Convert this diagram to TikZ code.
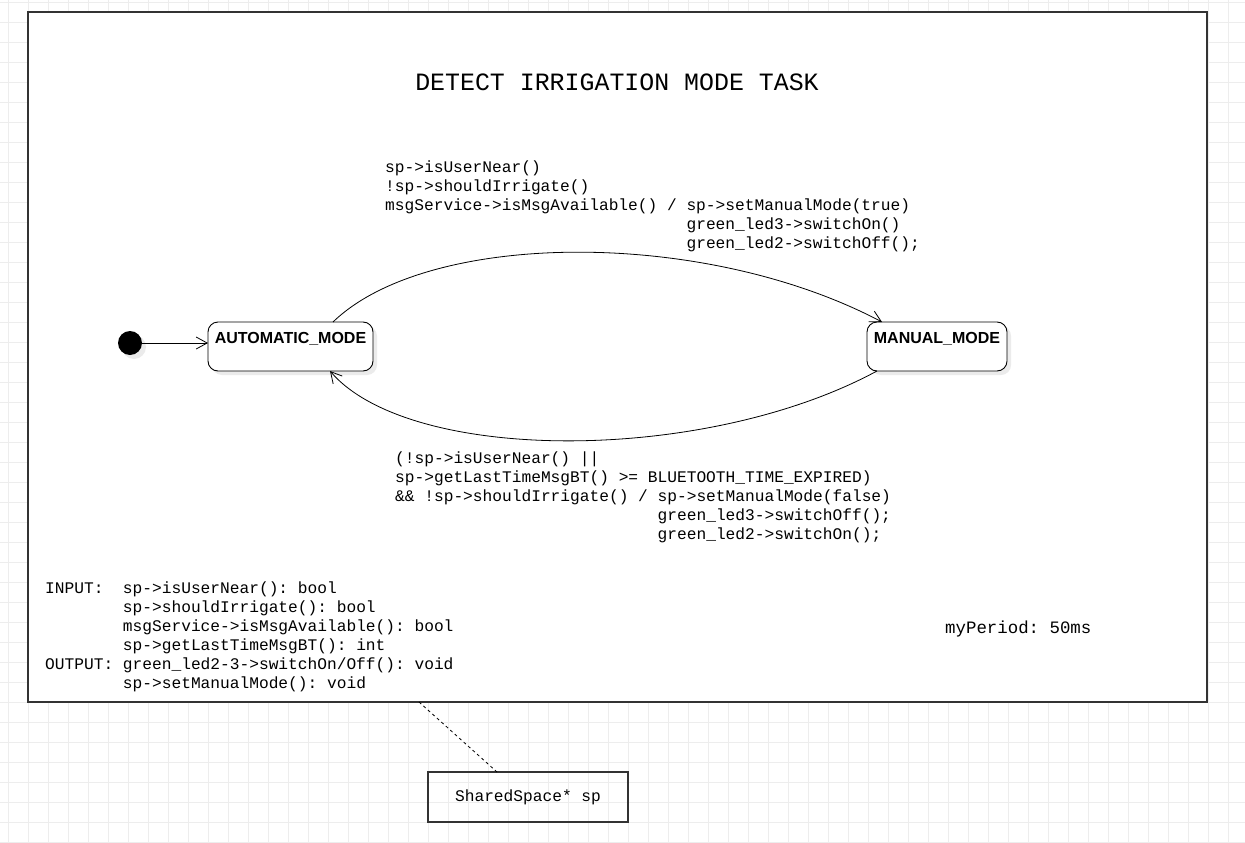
\documentclass[tikz,border=0pt]{standalone}
\usepackage{fontspec}
\setmainfont{Liberation Sans}
\setsansfont{Liberation Sans}
\setmonofont{Liberation Mono}
\usetikzlibrary{arrows.meta,positioning,shadows}

\definecolor{gridgray}{HTML}{EDEDED}
\definecolor{framegray}{HTML}{333333}
\definecolor{shadowgray}{HTML}{EBEBEB}

\tikzset{
	gridline/.style={draw=gridgray, line width=0.7pt},
	taskframe/.style={draw=framegray, fill=white, line width=1.4pt, inner sep=0pt, outer sep=0pt},
	state/.style={draw, fill=white, rounded corners=10pt, line width=0.9pt, inner xsep=0pt, inner ysep=10pt, outer sep=0pt, text height=11.5pt, text depth=17.5pt, font=\sffamily\bfseries\fontsize{16}{19}\selectfont, drop shadow={shadow xshift=4pt, shadow yshift=-4pt, fill=shadowgray, opacity=1}},
	initstate/.style={circle, fill=black, minimum size=24pt, inner sep=0pt, outer sep=0pt, drop shadow={shadow xshift=4pt, shadow yshift=-4pt, fill=shadowgray, opacity=1}},
	trans/.style={draw, line width=0.8pt, -{Straight Barb[length=11pt,width=12pt]}},
	code/.style={font=\ttfamily\fontsize{16.2}{19}\selectfont\frenchspacing, align=left, inner sep=0pt, anchor=north west},
	classbox/.style={draw=framegray, line width=1.3pt, minimum width=200pt, minimum height=50pt, inner sep=0pt, outer sep=0pt, font=\ttfamily\fontsize{16.2}{19}\selectfont},
	link/.style={draw, line width=0.8pt, dash pattern=on 3pt off 3pt}
}

\begin{document}
\begin{tikzpicture}[x=1pt,y=-1pt]
	\useasboundingbox (0,0) rectangle (1245,843);
	
	% background grid
	\foreach \gx in {8,28,...,1245} \draw[gridline] (\gx,0) -- (\gx,843);
	\foreach \gy in {2,22,...,843} \draw[gridline] (0,\gy) -- (1245,\gy);
	
	\node[taskframe, minimum width=1179pt, minimum height=690pt] (task) at (617.5,357) {};
	\node[font=\ttfamily\fontsize{24.9}{30}\selectfont] (title) at (617,82) {DETECT IRRIGATION MODE TASK};
	
	\node[state, minimum width=165pt] (auto) at (290.5,346.5) {AUTOMATIC\_MODE};
	\node[state, minimum width=140pt, right=494pt of auto] (manual) {MANUAL\_MODE};
	\node[initstate] (start) at (130,343) {};
	
	\draw[trans] (start) -- (start -| auto.west);
	\draw[trans] ([xshift=42.5pt]auto.north) .. controls +(95,-92) and +(-178,-94) .. ([xshift=-55pt]manual.north);
	\draw[trans] ([xshift=-60pt]manual.south) .. controls +(-172,93) and +(80,93) .. ([xshift=39.5pt]auto.south);
	
	\node[code] (toManual) at (385,160.5) {sp->isUserNear()\\
		!sp->shouldIrrigate()\\
		msgService->isMsgAvailable() / sp->setManualMode(true)\\
		\phantom{msgService->isMsgAvailable() / }green\_led3->switchOn()\\
		\phantom{msgService->isMsgAvailable() / }green\_led2->switchOff();};
	
	\node[code] (toAuto) at (395,451.5) {(!sp->isUserNear() ||\\
		sp->getLastTimeMsgBT() >= BLUETOOTH\_TIME\_EXPIRED)\\
		\&\& !sp->shouldIrrigate() / sp->setManualMode(false)\\
		\phantom{\&\& !sp->shouldIrrigate() / }green\_led3->switchOff();\\
		\phantom{\&\& !sp->shouldIrrigate() / }green\_led2->switchOn();};
	
	\node[code] (io) at (45,581.5) {\rlap{INPUT:}\phantom{OUTPUT: }sp->isUserNear(): bool\\
		\phantom{OUTPUT: }sp->shouldIrrigate(): bool\\
		\phantom{OUTPUT: }msgService->isMsgAvailable(): bool\\
		\phantom{OUTPUT: }sp->getLastTimeMsgBT(): int\\
		OUTPUT: green\_led2-3->switchOn/Off(): void\\
		\phantom{OUTPUT: }sp->setManualMode(): void};
	
	\node[code, anchor=west, font=\ttfamily\fontsize{17.4}{21}\selectfont] (period) at (945,629) {myPeriod: 50ms};
	
	\node[classbox] (shared) at (528,797) {SharedSpace* sp};
	\draw[link] ([xshift=-198.5pt]task.south) -- ([xshift=-31pt]shared.north);
	
\end{tikzpicture}
\end{document}
